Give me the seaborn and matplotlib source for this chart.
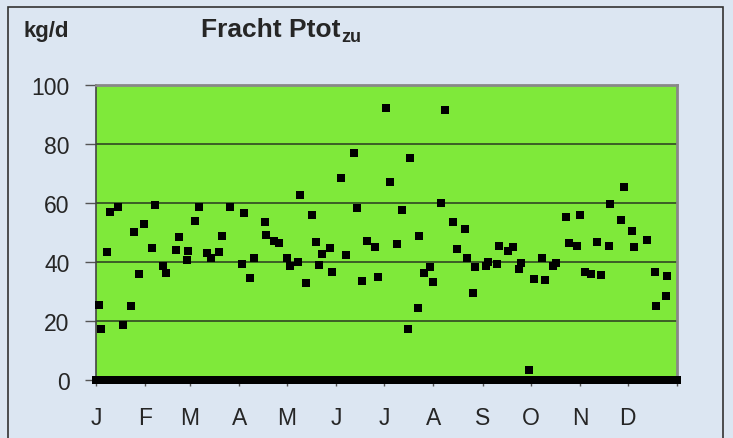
import numpy as np
import pandas as pd
import matplotlib.pyplot as plt
import seaborn as sns
from matplotlib.patches import Rectangle

# Days of the year (0 = 1 Jan) with a measurement, and the load in kg/d
mess_tage = [2, 3, 7, 9, 14, 17, 22, 24, 27, 30, 35, 37, 42, 44, 50, 52, 57, 58,
             62, 65, 70, 72, 77, 79, 84, 92, 93, 97, 99, 106, 107, 112, 115, 120,
             122, 127, 128, 132, 136, 138, 140, 142, 147, 148, 154, 157, 162, 164,
             167, 170, 175, 177, 182, 185, 189, 192, 196, 197, 202, 203, 206, 210,
             212, 217, 219, 224, 227, 232, 233, 237, 238, 245, 246, 252, 253, 259,
             262, 266, 267, 272, 275, 280, 282, 287, 289, 295, 297, 302, 304, 307,
             311, 315, 317, 322, 323, 330, 332, 337, 338, 346, 351, 352, 358, 359]
fracht = [25.4, 17.2, 43.3, 57.0, 58.8, 18.5, 25.2, 50.3, 35.9, 53.0, 44.6, 59.3,
          38.7, 36.4, 44.0, 48.4, 40.8, 43.8, 54.0, 58.6, 43.0, 41.2, 43.3, 48.7,
          58.5, 39.4, 56.5, 34.6, 41.4, 53.6, 49.0, 47.0, 46.4, 41.2, 38.6, 39.9,
          62.8, 33.0, 56.0, 46.7, 38.9, 42.7, 44.7, 36.5, 68.5, 42.4, 77.1, 58.2,
          33.7, 47.2, 45.2, 35.0, 92.3, 67.0, 46.1, 57.5, 17.2, 75.1, 24.3, 48.7,
          36.4, 38.2, 33.1, 60.0, 91.4, 53.7, 44.5, 51.1, 41.4, 29.4, 38.2, 38.7,
          40.1, 39.4, 45.4, 43.6, 45.0, 37.7, 39.5, 3.5, 34.1, 41.2, 34.0, 38.6,
          39.8, 55.1, 46.6, 45.3, 55.8, 36.6, 36.0, 46.8, 35.6, 45.4, 59.5, 54.4,
          65.3, 50.6, 45.2, 47.4, 36.5, 25.0, 28.6, 35.4]

monate = ["J", "F", "M", "A", "M", "J", "J", "A", "S", "O", "N", "D"]
monat_start = [0, 31, 59, 90, 120, 151, 181, 212, 243, 273, 304, 334, 365]

# all other days are 0 in the source table
tage = np.arange(0, 366)
werte = np.zeros(len(tage))
werte[mess_tage] = fracht
df = pd.DataFrame({"Tag": tage, "Fracht": werte})

bg = "#dce6f2"
green = "#7fe93a"

sns.set_style("white")
plt.rcParams['font.family'] = ['Liberation Sans', 'DejaVu Sans']

fig = plt.figure(figsize=(7.33, 4.39), dpi=100, facecolor=bg)
ax = fig.add_axes([96 / 733, 1 - 381 / 439, 581 / 733, 295 / 439])
ax.set_facecolor(green)

sns.scatterplot(data=df, x="Tag", y="Fracht", ax=ax, marker="s", s=28,
                color="black", linewidth=0, clip_on=False, zorder=3)

ax.set_xlim(0, 365)
ax.set_ylim(0, 100)
ax.set_yticks([0, 20, 40, 60, 80, 100])
ax.set_xticks(monat_start)
ax.set_xticklabels(monate + [""])
for y in [20, 40, 60, 80]:
    ax.axhline(y, color="#2a3a20", lw=1.1, zorder=1)

ax.tick_params(axis="y", direction="out", length=8, width=1, color="#555555",
               labelsize=16.5, pad=11, left=True)
ax.tick_params(axis="x", direction="out", length=4, width=1, color="#555555",
               labelsize=16.5, pad=15, bottom=True)
ax.set_xlabel("")
ax.set_ylabel("")

for side in ["top", "right"]:
    ax.spines[side].set_color("#888888")
    ax.spines[side].set_linewidth(2)
ax.spines["left"].set_color("#444444")
ax.spines["left"].set_linewidth(1.2)
ax.spines["bottom"].set_color("black")

# header texts
fig.text(23 / 733, 1 - 37 / 439, "kg/d", fontsize=16, fontweight="bold",
         ha="left", va="baseline")
titel = fig.text(201 / 733, 1 - 37 / 439, "Fracht Ptot", fontsize=19,
                 fontweight="bold", ha="left", va="baseline")
ax.annotate("zu", xy=(1, 0), xycoords=titel, xytext=(0.5, 0),
            textcoords="offset points", fontsize=13, fontweight="bold",
            ha="left", va="baseline", annotation_clip=False)

# frame round the whole chart
fig.patches.append(Rectangle((7.5 / 733, -0.05), 715.5 / 733, 1.05 - 7.5 / 439,
                             transform=fig.transFigure, fill=False,
                             edgecolor="#333333", lw=1.2))

fig.savefig("out.png", dpi=100, facecolor=bg)
